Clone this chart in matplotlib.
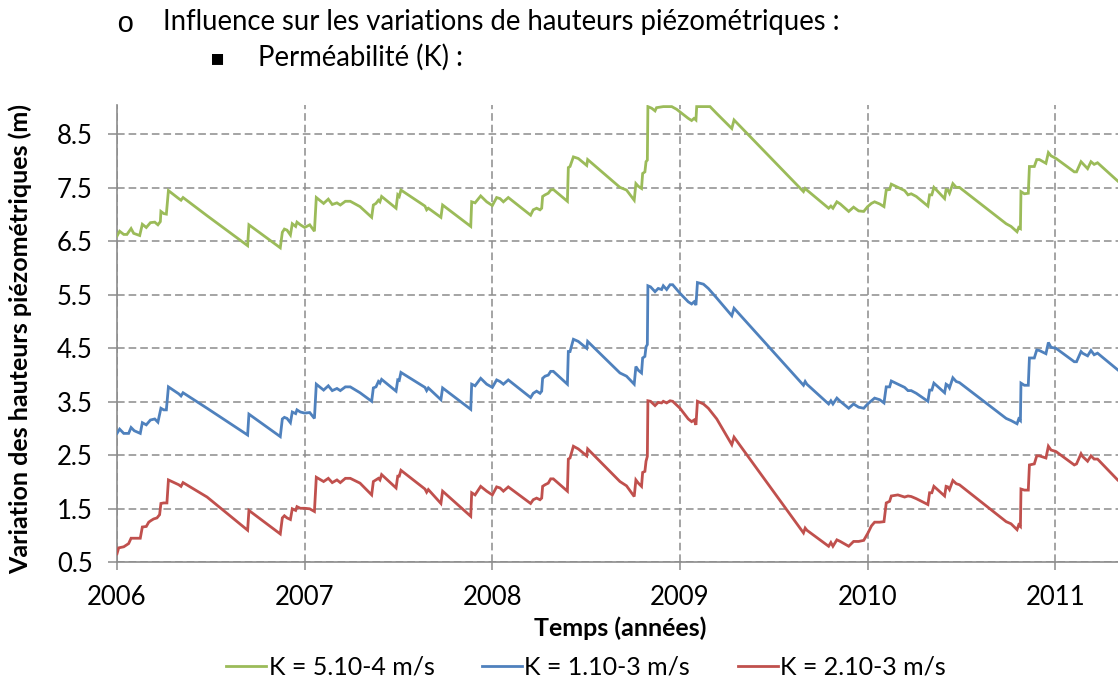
import matplotlib
matplotlib.use("Agg")
import matplotlib.pyplot as plt
from matplotlib.lines import Line2D

plt.rcParams['font.family'] = ['Lato', 'DejaVu Sans']

# Piezometric head variations (m) per permeability case, dates in decimal years
green_years = [2006.000, 2006.014, 2006.036, 2006.053, 2006.075, 2006.089, 2006.121, 2006.135, 2006.156,
               2006.178, 2006.201, 2006.218, 2006.231, 2006.234, 2006.249, 2006.263, 2006.274, 2006.329,
               2006.341, 2006.352, 2006.480, 2006.696, 2006.703, 2006.870, 2006.881, 2006.892, 2006.906,
               2006.924, 2006.934, 2006.952, 2006.959, 2006.977, 2007.000, 2007.027, 2007.052, 2007.062,
               2007.101, 2007.126, 2007.147, 2007.172, 2007.190, 2007.217, 2007.243, 2007.295, 2007.357,
               2007.366, 2007.380, 2007.393, 2007.401, 2007.410, 2007.487, 2007.496, 2007.504, 2007.513,
               2007.641, 2007.650, 2007.659, 2007.726, 2007.735, 2007.885, 2007.890, 2007.908, 2007.938,
               2007.970, 2008.000, 2008.023, 2008.041, 2008.059, 2008.085, 2008.204, 2008.218, 2008.236,
               2008.254, 2008.263, 2008.268, 2008.281, 2008.298, 2008.311, 2008.325, 2008.400, 2008.405,
               2008.414, 2008.432, 2008.458, 2008.503, 2008.508, 2008.680, 2008.715, 2008.756, 2008.765,
               2008.778, 2008.795, 2008.801, 2008.813, 2008.819, 2008.826, 2008.829, 2008.849, 2008.867,
               2008.875, 2008.911, 2008.956, 2008.982, 2009.000, 2009.044, 2009.062, 2009.075, 2009.085,
               2009.089, 2009.160, 2009.196, 2009.276, 2009.288, 2009.658, 2009.667, 2009.676, 2009.792,
               2009.804, 2009.815, 2009.836, 2009.854, 2009.899, 2009.925, 2009.952, 2009.979, 2010.000,
               2010.020, 2010.037, 2010.064, 2010.087, 2010.099, 2010.117, 2010.126, 2010.161, 2010.197,
               2010.215, 2010.232, 2010.259, 2010.321, 2010.330, 2010.342, 2010.353, 2010.410, 2010.418,
               2010.427, 2010.436, 2010.454, 2010.472, 2010.489, 2010.738, 2010.764, 2010.796, 2010.805,
               2010.814, 2010.817, 2010.835, 2010.856, 2010.862, 2010.888, 2010.901, 2010.915, 2010.950,
               2010.963, 2010.977, 2011.004, 2011.101, 2011.113, 2011.137, 2011.145, 2011.172, 2011.190,
               2011.207, 2011.225, 2011.332]
green_vals = [6.60, 6.69, 6.63, 6.63, 6.74, 6.65, 6.61, 6.82, 6.76,
              6.85, 6.86, 6.81, 6.87, 7.06, 7.02, 7.01, 7.45, 7.30,
              7.27, 7.32, 6.98, 6.42, 6.81, 6.38, 6.67, 6.73, 6.71,
              6.62, 6.83, 6.78, 6.86, 6.81, 6.76, 6.81, 6.69, 7.32,
              7.21, 7.29, 7.19, 7.22, 7.18, 7.25, 7.25, 7.15, 6.95,
              7.18, 7.21, 7.27, 7.24, 7.34, 7.12, 7.37, 7.34, 7.46,
              7.16, 7.09, 7.12, 6.95, 7.18, 6.78, 7.24, 7.22, 7.35,
              7.24, 7.17, 7.32, 7.30, 7.24, 7.32, 6.99, 7.09, 7.12,
              7.09, 7.12, 7.34, 7.37, 7.40, 7.46, 7.47, 7.25, 7.88,
              7.90, 8.08, 8.05, 7.92, 8.03, 7.51, 7.46, 7.27, 7.58,
              7.53, 7.49, 7.77, 7.80, 7.99, 8.02, 9.02, 8.99, 8.94,
              9.00, 9.02, 9.02, 8.97, 8.92, 8.80, 8.76, 8.80, 8.77,
              9.02, 9.02, 8.89, 8.61, 8.77, 7.43, 7.49, 7.46, 7.12,
              7.16, 7.12, 7.24, 7.20, 7.06, 7.14, 7.07, 7.06, 7.15,
              7.21, 7.24, 7.20, 7.15, 7.46, 7.47, 7.57, 7.51, 7.45,
              7.37, 7.39, 7.34, 7.16, 7.37, 7.37, 7.51, 7.30, 7.47,
              7.46, 7.40, 7.58, 7.51, 7.51, 6.83, 6.78, 6.68, 6.76,
              6.74, 7.43, 7.39, 7.40, 7.90, 7.90, 8.03, 8.03, 7.96,
              8.16, 8.10, 8.05, 7.80, 7.80, 7.99, 7.96, 7.86, 7.99,
              7.94, 7.97, 7.63]

blue_years = [2006.000, 2006.014, 2006.036, 2006.062, 2006.075, 2006.092, 2006.124, 2006.135, 2006.156,
              2006.178, 2006.201, 2006.218, 2006.234, 2006.249, 2006.263, 2006.274, 2006.329, 2006.341,
              2006.352, 2006.480, 2006.696, 2006.703, 2006.870, 2006.881, 2006.892, 2006.906, 2006.924,
              2006.934, 2006.952, 2006.959, 2006.977, 2007.000, 2007.027, 2007.052, 2007.062, 2007.101,
              2007.126, 2007.147, 2007.172, 2007.190, 2007.217, 2007.243, 2007.295, 2007.357, 2007.366,
              2007.380, 2007.393, 2007.401, 2007.410, 2007.487, 2007.496, 2007.504, 2007.513, 2007.641,
              2007.650, 2007.659, 2007.726, 2007.735, 2007.885, 2007.890, 2007.908, 2007.938, 2007.970,
              2008.000, 2008.023, 2008.041, 2008.059, 2008.085, 2008.204, 2008.218, 2008.236, 2008.254,
              2008.263, 2008.268, 2008.281, 2008.298, 2008.311, 2008.325, 2008.400, 2008.405, 2008.414,
              2008.432, 2008.458, 2008.503, 2008.508, 2008.680, 2008.715, 2008.756, 2008.765, 2008.778,
              2008.795, 2008.801, 2008.813, 2008.819, 2008.826, 2008.829, 2008.843, 2008.867, 2008.884,
              2008.902, 2008.911, 2008.929, 2008.947, 2008.961, 2009.000, 2009.044, 2009.062, 2009.075,
              2009.085, 2009.093, 2009.125, 2009.151, 2009.196, 2009.276, 2009.288, 2009.658, 2009.667,
              2009.676, 2009.792, 2009.804, 2009.815, 2009.836, 2009.854, 2009.899, 2009.925, 2009.952,
              2009.979, 2010.000, 2010.020, 2010.037, 2010.064, 2010.087, 2010.099, 2010.117, 2010.126,
              2010.161, 2010.197, 2010.215, 2010.232, 2010.259, 2010.321, 2010.330, 2010.342, 2010.353,
              2010.410, 2010.418, 2010.427, 2010.436, 2010.454, 2010.472, 2010.489, 2010.738, 2010.764,
              2010.796, 2010.805, 2010.814, 2010.817, 2010.835, 2010.856, 2010.862, 2010.888, 2010.901,
              2010.915, 2010.950, 2010.963, 2010.977, 2011.004, 2011.101, 2011.113, 2011.137, 2011.145,
              2011.172, 2011.190, 2011.207, 2011.225, 2011.332]
blue_vals = [2.91, 2.99, 2.91, 2.91, 3.02, 2.96, 2.91, 3.11, 3.07,
             3.16, 3.18, 3.12, 3.38, 3.35, 3.35, 3.78, 3.65, 3.61,
             3.67, 3.38, 2.88, 3.27, 2.85, 3.18, 3.21, 3.19, 3.11,
             3.31, 3.28, 3.35, 3.31, 3.29, 3.30, 3.19, 3.83, 3.72,
             3.80, 3.71, 3.75, 3.71, 3.78, 3.78, 3.67, 3.51, 3.76,
             3.78, 3.88, 3.85, 3.92, 3.70, 3.91, 3.90, 4.05, 3.77,
             3.71, 3.76, 3.54, 3.76, 3.36, 3.83, 3.80, 3.94, 3.83,
             3.77, 3.91, 3.88, 3.83, 3.91, 3.58, 3.66, 3.70, 3.66,
             3.70, 3.94, 3.98, 4.00, 4.07, 4.07, 3.83, 4.44, 4.44,
             4.67, 4.63, 4.50, 4.63, 4.04, 3.98, 3.83, 4.16, 4.09,
             4.04, 4.32, 4.35, 4.53, 4.57, 5.67, 5.65, 5.56, 5.62,
             5.60, 5.67, 5.60, 5.69, 5.69, 5.53, 5.37, 5.33, 5.37,
             5.31, 5.73, 5.70, 5.62, 5.44, 5.11, 5.25, 3.81, 3.88,
             3.83, 3.46, 3.52, 3.46, 3.57, 3.51, 3.38, 3.46, 3.40,
             3.38, 3.46, 3.52, 3.57, 3.54, 3.48, 3.78, 3.78, 3.89,
             3.83, 3.77, 3.71, 3.71, 3.66, 3.51, 3.72, 3.72, 3.85,
             3.67, 3.83, 3.81, 3.76, 3.95, 3.88, 3.86, 3.19, 3.15,
             3.09, 3.18, 3.15, 3.85, 3.81, 3.81, 4.32, 4.32, 4.47,
             4.46, 4.40, 4.61, 4.52, 4.50, 4.25, 4.25, 4.44, 4.41,
             4.36, 4.46, 4.38, 4.41, 4.10]

red_years = [2006.000, 2006.009, 2006.036, 2006.053, 2006.062, 2006.075, 2006.124, 2006.135, 2006.156,
             2006.169, 2006.181, 2006.195, 2006.213, 2006.227, 2006.234, 2006.249, 2006.266, 2006.274,
             2006.329, 2006.341, 2006.352, 2006.480, 2006.696, 2006.703, 2006.870, 2006.881, 2006.892,
             2006.906, 2006.924, 2006.934, 2006.952, 2006.959, 2006.977, 2007.000, 2007.027, 2007.052,
             2007.062, 2007.101, 2007.126, 2007.147, 2007.172, 2007.190, 2007.217, 2007.243, 2007.295,
             2007.357, 2007.366, 2007.380, 2007.393, 2007.401, 2007.410, 2007.487, 2007.496, 2007.504,
             2007.513, 2007.641, 2007.650, 2007.659, 2007.726, 2007.735, 2007.885, 2007.890, 2007.908,
             2007.938, 2007.970, 2008.000, 2008.023, 2008.041, 2008.059, 2008.085, 2008.204, 2008.218,
             2008.236, 2008.254, 2008.263, 2008.268, 2008.281, 2008.298, 2008.311, 2008.325, 2008.400,
             2008.405, 2008.414, 2008.432, 2008.458, 2008.503, 2008.508, 2008.680, 2008.715, 2008.756,
             2008.765, 2008.778, 2008.795, 2008.801, 2008.813, 2008.819, 2008.826, 2008.829, 2008.843,
             2008.867, 2008.884, 2008.902, 2008.911, 2008.929, 2008.947, 2008.961, 2009.000, 2009.044,
             2009.062, 2009.075, 2009.085, 2009.093, 2009.125, 2009.151, 2009.196, 2009.276, 2009.288,
             2009.658, 2009.667, 2009.676, 2009.792, 2009.804, 2009.815, 2009.836, 2009.854, 2009.899,
             2009.925, 2009.952, 2009.979, 2010.002, 2010.020, 2010.037, 2010.064, 2010.087, 2010.099,
             2010.117, 2010.126, 2010.161, 2010.197, 2010.215, 2010.232, 2010.259, 2010.321, 2010.330,
             2010.342, 2010.353, 2010.410, 2010.418, 2010.427, 2010.436, 2010.454, 2010.472, 2010.489,
             2010.738, 2010.764, 2010.796, 2010.805, 2010.814, 2010.817, 2010.835, 2010.856, 2010.862,
             2010.888, 2010.901, 2010.915, 2010.950, 2010.963, 2010.977, 2011.004, 2011.101, 2011.113,
             2011.137, 2011.145, 2011.172, 2011.190, 2011.207, 2011.225, 2011.332]
red_vals = [0.66, 0.77, 0.79, 0.83, 0.85, 0.95, 0.95, 1.16, 1.17,
            1.25, 1.28, 1.31, 1.33, 1.39, 1.60, 1.61, 1.61, 2.04,
            1.95, 1.92, 1.99, 1.72, 1.10, 1.47, 1.03, 1.33, 1.37,
            1.33, 1.30, 1.50, 1.47, 1.54, 1.51, 1.51, 1.50, 1.45,
            2.09, 2.01, 2.07, 1.99, 2.04, 1.99, 2.07, 2.07, 1.98,
            1.76, 2.01, 2.04, 2.07, 2.04, 2.14, 1.89, 2.11, 2.11,
            2.22, 1.87, 1.81, 1.86, 1.60, 1.83, 1.36, 1.80, 1.76,
            1.92, 1.83, 1.76, 1.91, 1.89, 1.83, 1.91, 1.60, 1.67,
            1.70, 1.67, 1.70, 1.92, 1.95, 1.98, 2.06, 2.06, 1.83,
            2.43, 2.45, 2.67, 2.62, 2.49, 2.62, 2.01, 1.93, 1.73,
            2.04, 1.98, 1.92, 2.18, 2.20, 2.39, 2.48, 3.52, 3.51,
            3.43, 3.49, 3.48, 3.51, 3.48, 3.52, 3.51, 3.38, 3.18,
            3.13, 3.16, 3.07, 3.51, 3.46, 3.38, 3.18, 2.70, 2.84,
            1.05, 1.14, 1.10, 0.80, 0.87, 0.80, 0.92, 0.89, 0.80,
            0.89, 0.89, 0.91, 1.05, 1.18, 1.25, 1.25, 1.26, 1.61,
            1.64, 1.74, 1.76, 1.72, 1.74, 1.73, 1.69, 1.58, 1.80,
            1.80, 1.92, 1.74, 1.92, 1.91, 1.86, 2.03, 1.97, 1.95,
            1.26, 1.22, 1.11, 1.20, 1.17, 1.87, 1.85, 1.85, 2.32,
            2.34, 2.49, 2.49, 2.45, 2.67, 2.60, 2.57, 2.32, 2.34,
            2.53, 2.48, 2.39, 2.49, 2.43, 2.43, 2.04]

series_labels = ["K = 5.10-4 m/s", "K = 1.10-3 m/s", "K = 2.10-3 m/s"]
series_colors = ["#9BBB59", "#4F81BD", "#C0504D"]
year_ticks = [2006, 2007, 2008, 2009, 2010, 2011]
value_ticks = [0.5, 1.5, 2.5, 3.5, 4.5, 5.5, 6.5, 7.5, 8.5]

W, H = 1118, 684
fig = plt.figure(figsize=(W / 100, H / 100), dpi=100)
ax = fig.add_axes([117 / W, 1 - 562.3 / H, 1 - 117 / W, (562.3 - 105) / H])

series = [(green_years, green_vals), (blue_years, blue_vals), (red_years, red_vals)]
for (xs, ys), lab, col in zip(series, series_labels, series_colors):
    ax.plot(xs, ys, color=col, lw=2.0, label=lab, solid_joinstyle='miter', zorder=3)

grid_col = "#8C8C8C"
ax.set_xlim(2006, 2011.334)
ax.set_ylim(0.5, 9.05)
ax.set_xticks(year_ticks)
ax.set_xticklabels([str(y) for y in year_ticks])
ax.set_yticks(value_ticks)
ax.set_yticklabels([f"{v:.1f}" for v in value_ticks])
ax.grid(True, color=grid_col, lw=1.1, linestyle=(0, (5, 2.6)), zorder=1)
for side in ("top", "right"):
    ax.spines[side].set_visible(False)
for side in ("left", "bottom"):
    ax.spines[side].set_color(grid_col)
    ax.spines[side].set_linewidth(1.2)
ax.tick_params(axis='y', direction='out', length=6.5, width=1.1, color=grid_col,
               pad=11, labelsize=18.5, labelcolor='black')
ax.tick_params(axis='x', direction='out', length=6, width=1.1, color=grid_col,
               pad=10, labelsize=18.5, labelcolor='black')

ax.set_ylabel("Variation des hauteurs piézométriques (m)", fontsize=18, fontweight='bold')
ax.yaxis.set_label_coords((20 - 117) / (W - 117), (562.3 - 339) / (562.3 - 105))
ax.yaxis.label.set_verticalalignment('center')
ax.set_xlabel("Temps (années)", fontsize=18, fontweight='bold')
ax.xaxis.set_label_coords((620 - 117) / (W - 117), (562.3 - 628) / (562.3 - 105))
ax.xaxis.label.set_verticalalignment('center')

handles = [Line2D([], [], color=c, lw=2.0) for c in series_colors]
fig.legend(handles, series_labels, loc='center', bbox_to_anchor=(586 / W, 1 - 667 / H),
           ncol=3, frameon=False, fontsize=18, handlelength=1.6, handletextpad=0.1,
           columnspacing=1.9)

# Document headings above the chart
fig.text(125 / W, 1 - 24 / H, "o", family=['Liberation Mono'], fontsize=21, ha='center', va='center')
fig.text(163 / W, 1 - 22 / H, "Influence sur les variations de hauteurs piézométriques :",
         fontsize=19.8, ha='left', va='center')
fig.text(218 / W, 1 - 58 / H, "\u25aa", family=['DejaVu Sans'], fontsize=16, ha='center', va='center')
fig.text(258 / W, 1 - 57 / H, "Perméabilité (K) :", fontsize=19.8, ha='left', va='center')

fig.savefig("out.png", dpi=100)
